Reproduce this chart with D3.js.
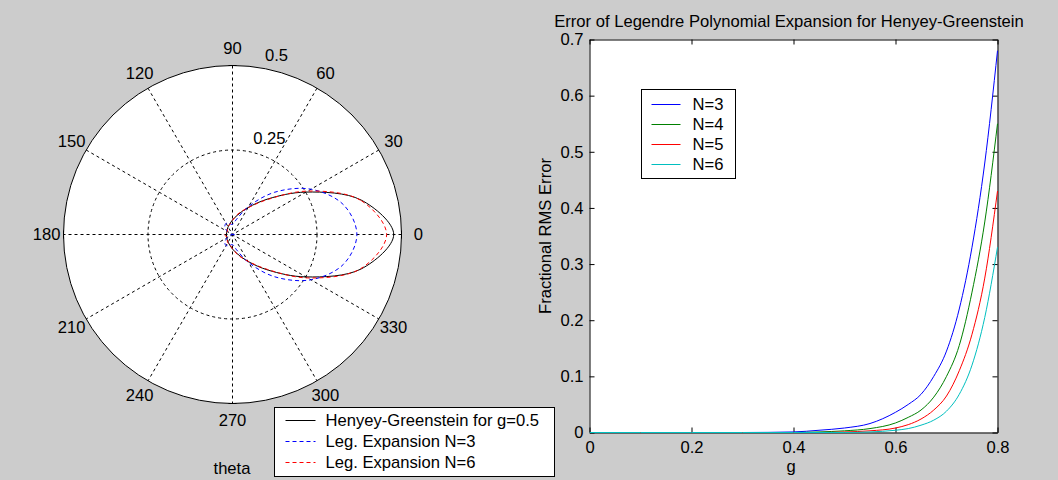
<!DOCTYPE html>
<html>
<head>
<meta charset="utf-8">
<script src="https://cdn.jsdelivr.net/npm/d3@7"></script>
<style>
  body { margin: 0; background: #cccccc; }
  svg { display: block; font-family: "Liberation Sans", Arial, Helvetica, sans-serif; }
  text { fill: #000; }
</style>
</head>
<body>
<svg id="chart" width="1058" height="480"></svg>
<script>
// polar plot: angle in degrees, radius values
var angles = [0, 15, 30, 45, 60, 75, 90, 105, 120, 135, 150, 165, 180, 195, 210, 225, 240, 255, 270, 285, 300, 315, 330, 345];
var hgValues = [0.477, 0.394, 0.251, 0.149, 0.092, 0.060, 0.043, 0.032, 0.026, 0.022, 0.019, 0.018, 0.018, 0.018, 0.019, 0.022, 0.026, 0.032, 0.043, 0.060, 0.092, 0.149, 0.251, 0.394];
var legN3 = [0.368, 0.340, 0.268, 0.177, 0.096, 0.047, 0.030, 0.033, 0.038, 0.032, 0.016, -0.002, -0.010, -0.002, 0.016, 0.032, 0.038, 0.033, 0.030, 0.047, 0.096, 0.177, 0.268, 0.340];
var legN6 = [0.456, 0.392, 0.257, 0.146, 0.091, 0.063, 0.042, 0.031, 0.028, 0.022, 0.017, 0.020, 0.024, 0.020, 0.017, 0.022, 0.028, 0.031, 0.042, 0.063, 0.091, 0.146, 0.257, 0.392];
var polarLegend = ["Henyey-Greenstein for g=0.5", "Leg. Expansion N=3", "Leg. Expansion N=6"];
var spokeAngles = [0, 30, 60, 90, 120, 150, 180, 210, 240, 270, 300, 330];
var ringValues = [0.25, 0.5];

// error plot
var gValues = [0, 0.1, 0.2, 0.3, 0.4, 0.45, 0.5, 0.55, 0.6, 0.625, 0.65, 0.675, 0.7, 0.725, 0.75, 0.775, 0.8];
var errN3 = [0, 0, 0, 0, 0.001, 0.004, 0.008, 0.016, 0.036, 0.050, 0.068, 0.100, 0.145, 0.220, 0.330, 0.480, 0.680];
var errN4 = [0, 0, 0, 0, 0, 0.001, 0.003, 0.007, 0.017, 0.027, 0.040, 0.063, 0.100, 0.155, 0.250, 0.375, 0.550];
var errN5 = [0, 0, 0, 0, 0, 0, 0.001, 0.003, 0.008, 0.014, 0.024, 0.040, 0.065, 0.110, 0.175, 0.275, 0.430];
var errN6 = [0, 0, 0, 0, 0, 0, 0, 0.001, 0.004, 0.007, 0.013, 0.022, 0.038, 0.068, 0.120, 0.205, 0.330];
var errNames = ["N=3", "N=4", "N=5", "N=6"];
var xTicks = [0, 0.2, 0.4, 0.6, 0.8];
var yTicks = [0, 0.1, 0.2, 0.3, 0.4, 0.5, 0.6, 0.7];

var FS = 16.6;
var svg = d3.select("#chart");
svg.append("rect").attr("width", 1058).attr("height", 480).attr("fill", "#cccccc");

// ---------- polar ----------
var cx = 232.5, cy = 234.5, R = 169;
var rScale = d3.scaleLinear().domain([0, 0.5]).range([0, R]);
var pol = svg.append("g").attr("transform", "translate(" + cx + "," + cy + ")");
var rad = function (deg) { return deg * Math.PI / 180; };

pol.append("circle").attr("r", R).attr("fill", "#fff");

// spokes through the centre
pol.selectAll(".spoke").data(spokeAngles.filter(a => a < 180)).enter().append("line")
	.attr("x1", a => rScale(0.5) * Math.cos(rad(a)))
	.attr("y1", a => -rScale(0.5) * Math.sin(rad(a)))
	.attr("x2", a => -rScale(0.5) * Math.cos(rad(a)))
	.attr("y2", a => rScale(0.5) * Math.sin(rad(a)))
	.attr("stroke", "#000").attr("stroke-width", 1).attr("stroke-dasharray", "3,3");

pol.selectAll(".ring").data(ringValues).enter().append("circle")
	.attr("r", d => rScale(d)).attr("fill", "none").attr("stroke", "#000")
	.attr("stroke-width", 1)
	.attr("stroke-dasharray", d => d < 0.5 ? "3,3" : null);

// little ticks on the rim
[0, 90, 180, 270].forEach(function (a) {
	var px = rScale(0.5) * Math.cos(rad(a)), py = -rScale(0.5) * Math.sin(rad(a));
	var tx = -Math.sin(rad(a)) * 4, ty = -Math.cos(rad(a)) * 4;
	pol.append("line").attr("x1", px - tx).attr("y1", py - ty).attr("x2", px + tx).attr("y2", py + ty)
		.attr("stroke", "#000");
});

pol.selectAll(".alab").data(spokeAngles).enter().append("text")
	.attr("x", a => rScale(0.55) * Math.cos(rad(a)))
	.attr("y", a => -rScale(0.55) * Math.sin(rad(a)))
	.attr("text-anchor", "middle").attr("dominant-baseline", "central")
	.attr("font-size", FS).text(a => a);

pol.selectAll(".rlab").data(ringValues).enter().append("text")
	.attr("x", d => rScale(d) * Math.cos(rad(82)) + 9)
	.attr("y", d => -rScale(d) * Math.sin(rad(82)) - 12)
	.attr("dominant-baseline", "central").attr("font-size", FS).text(d => d);

var radial = d3.lineRadial()
	.angle(d => Math.PI / 2 - rad(d[0]))
	.radius(d => rScale(d[1]))
	.curve(d3.curveCatmullRomClosed);

var polarSeries = [
	{ vals: hgValues, color: "#000000", dash: null },
	{ vals: legN3, color: "#0000ff", dash: "4,3" },
	{ vals: legN6, color: "#ff0000", dash: "4,3" }
];
polarSeries.forEach(function (s) {
	pol.append("path").datum(angles.map((a, i) => [a, s.vals[i]]))
		.attr("d", radial).attr("fill", "none").attr("stroke", s.color)
		.attr("stroke-width", 1).attr("stroke-dasharray", s.dash);
});

svg.append("text").attr("x", 232).attr("y", 474).attr("text-anchor", "middle")
	.attr("font-size", FS).text("theta");

var lg = svg.append("g").attr("transform", "translate(274.5,407.5)");
lg.append("rect").attr("width", 280).attr("height", 69).attr("fill", "#fff").attr("stroke", "#000");
polarSeries.forEach(function (s, i) {
	var ly = 13 + i * 21;
	lg.append("line").attr("x1", 11).attr("x2", 41).attr("y1", ly).attr("y2", ly)
		.attr("stroke", s.color).attr("stroke-width", 1).attr("stroke-dasharray", s.dash);
	lg.append("text").attr("x", 51).attr("y", ly).attr("dominant-baseline", "central")
		.attr("font-size", FS).text(polarLegend[i]);
});

// ---------- error plot ----------
var x = d3.scaleLinear().domain([0, 0.8]).range([589.5, 997.5]);
var y = d3.scaleLinear().domain([0, 0.7]).range([432.5, 39.5]);
var fmt = d => d === 0 ? "0" : d3.format(".1f")(d);

svg.append("rect").attr("x", 589.5).attr("y", 39.5).attr("width", 408).attr("height", 393).attr("fill", "#fff");

var axes = [
	svg.append("g").attr("transform", "translate(0,432.5)")
		.call(d3.axisBottom(x).tickValues(xTicks).tickFormat(fmt).tickSize(-5).tickSizeOuter(0).tickPadding(9)),
	svg.append("g").attr("transform", "translate(0,39.5)")
		.call(d3.axisTop(x).tickValues(xTicks).tickFormat("").tickSize(-5).tickSizeOuter(0)),
	svg.append("g").attr("transform", "translate(589.5,0)")
		.call(d3.axisLeft(y).tickValues(yTicks).tickFormat(fmt).tickSize(-5).tickSizeOuter(0).tickPadding(6)),
	svg.append("g").attr("transform", "translate(997.5,0)")
		.call(d3.axisRight(y).tickValues(yTicks).tickFormat("").tickSize(-5).tickSizeOuter(0))
];
axes.forEach(function (a) {
	a.attr("font-size", FS).attr("font-family", "Liberation Sans, Arial, sans-serif");
	a.selectAll("text").attr("fill", "#000");
	a.selectAll("line, path").attr("stroke", "#000");
});

var errSeries = [
	{ vals: errN3, color: "#0000ff" },
	{ vals: errN4, color: "#008000" },
	{ vals: errN5, color: "#ff0000" },
	{ vals: errN6, color: "#00bfbf" }
];
var line = d3.line().x(d => x(d[0])).y(d => y(d[1])).curve(d3.curveMonotoneX);
errSeries.forEach(function (s) {
	svg.append("path").datum(gValues.map((g, i) => [g, s.vals[i]]))
		.attr("d", line).attr("fill", "none").attr("stroke", s.color).attr("stroke-width", 1);
});

svg.append("text").attr("x", 789).attr("y", 27).attr("text-anchor", "middle")
	.attr("font-size", FS).text("Error of Legendre Polynomial Expansion for Henyey-Greenstein");
svg.append("text").attr("transform", "translate(551,236) rotate(-90)").attr("text-anchor", "middle")
	.attr("font-size", FS).text("Fractional RMS Error");
svg.append("text").attr("x", 791).attr("y", 472).attr("text-anchor", "middle")
	.attr("font-size", FS).text("g");

var el = svg.append("g").attr("transform", "translate(641.5,89.5)");
el.append("rect").attr("width", 94).attr("height", 89).attr("fill", "#fff").attr("stroke", "#000");
errSeries.forEach(function (s, i) {
	var yy = 15 + i * 20;
	el.append("line").attr("x1", 10).attr("x2", 39).attr("y1", yy).attr("y2", yy).attr("stroke", s.color);
	el.append("text").attr("x", 51).attr("y", yy).attr("dominant-baseline", "central")
		.attr("font-size", FS).text(errNames[i]);
});
</script>
</body>
</html>
